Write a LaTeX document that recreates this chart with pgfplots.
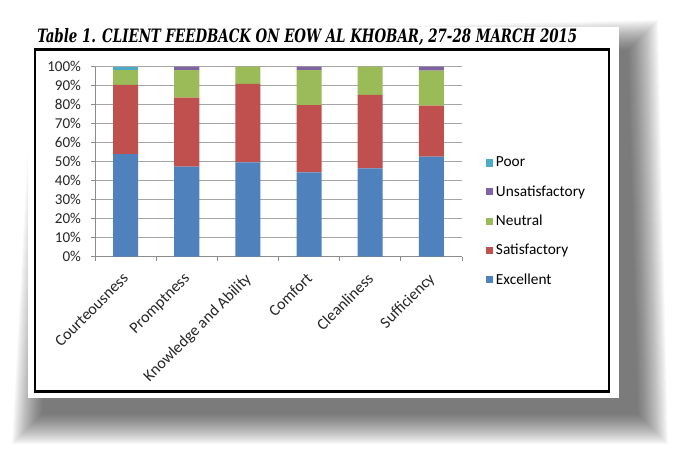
\documentclass[border=0pt]{standalone}
\usepackage{pgfplots}
\pgfplotsset{compat=1.18}
\usepackage{fontspec}
\setmainfont{Carlito}
\newfontfamily\titlefont{DejaVu Serif Condensed}
\definecolor{cExc}{HTML}{4F81BD}
\definecolor{cSat}{HTML}{C0504D}
\definecolor{cNeu}{HTML}{9BBB59}
\definecolor{cUns}{HTML}{8064A2}
\definecolor{cPoor}{HTML}{4BACC6}
\begin{document}
\begin{tikzpicture}
\begin{scope}[x=0.75pt,y=-0.75pt]
\path (0,0) rectangle (674,453);
% shadow
\foreach \r in {0,1,...,30}{
  \fill[black,opacity=0.025] (64-\r,64-\r) -- (628+\r,50-\r) -- (638+\r,414+\r) -- (42-\r,414+\r) -- cycle;
}
\fill[white] (28,27) rectangle (619,398);
\draw[black,line width=1.9pt] (35,49.5) rectangle (609,391.5);
\node[anchor=base west,inner sep=0pt] at (37,42.5) {\resizebox{405pt}{10.5pt}{\titlefont\bfseries\itshape Table 1. CLIENT FEEDBACK ON EOW AL KHOBAR, 27-28 MARCH 2015}};
\end{scope}
\begin{axis}[
  at={(71.25pt,-192.5pt)}, anchor=south west,
  scale only axis, width=275.25pt, height=142.5pt,
  ybar stacked, bar width=18.75pt,
  xmin=-0.5, xmax=5.5, ymin=0, ymax=100,
  xtick={-0.5,0.5,...,5.5}, xticklabels={},
  extra x ticks={0,1,2,3,4,5},
  extra x tick labels={Courteousness,Promptness,Knowledge and Ability,Comfort,Cleanliness,Sufficiency},
  extra x tick style={major tick length=0pt, grid=none,
    xticklabel style={rotate=45, anchor=north east, inner sep=0pt, xshift=-10pt, yshift=-6pt, font=\fontsize{12pt}{13pt}\selectfont}},
  ytick={0,10,...,100},
  yticklabel={\pgfmathprintnumber{\tick}\%},
  yticklabel style={xshift=-4pt},
  /pgf/number format/assume math mode=true,
  ymajorgrids, grid style={black!35, line width=0.6pt},
  axis line style={black!45, line width=0.6pt},
  axis x line*=bottom, axis y line*=left,
  x axis line style={-}, y axis line style={-},
  tick style={black!45, line width=0.6pt},
  major tick length=3pt,
  xtick align=outside, ytick align=outside,
  tick label style={font=\fontsize{11.3pt}{13pt}\selectfont, text=black!85},
  legend style={at={(1.065,0.54)}, anchor=north west, draw=none, fill=none,
    font=\fontsize{11.5pt}{13pt}\selectfont, row sep=8.5pt, inner sep=0pt},
  legend cell align=left,
  reverse legend,
  legend image code/.code={\fill[#1] (0pt,-2.7pt) rectangle (5.4pt,2.7pt);},
]
\addplot[fill=cExc, draw=none] coordinates {(0,54.0) (1,47.4) (2,49.6) (3,44.4) (4,46.5) (5,52.6)};
\addplot[fill=cSat, draw=none] coordinates {(0,36.4) (1,36.3) (2,41.3) (3,35.4) (4,38.6) (5,26.9)};
\addplot[fill=cNeu, draw=none] coordinates {(0,7.8) (1,14.5) (2,9.1) (3,18.4) (4,14.9) (5,18.4)};
\addplot[fill=cUns, draw=none] coordinates {(0,0) (1,1.8) (2,0) (3,1.8) (4,0) (5,2.1)};
\addplot[fill=cPoor, draw=none] coordinates {(0,1.8) (1,0) (2,0) (3,0) (4,0) (5,0)};
\legend{Excellent,Satisfactory,Neutral,Unsatisfactory,Poor}
\end{axis}
\end{tikzpicture}
\end{document}
